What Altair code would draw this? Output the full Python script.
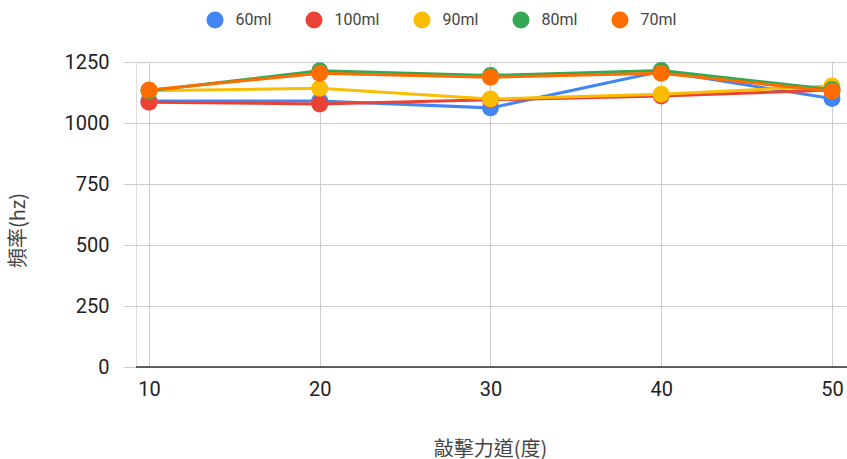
import altair as alt
import pandas as pd

force = [10, 20, 30, 40, 50]
series_names = ["60ml", "100ml", "90ml", "80ml", "70ml"]
colors = ["#4285F4", "#EA4335", "#FBBC04", "#34A853", "#FF6D01"]
v60 = [1090, 1090, 1062, 1212, 1100]
v100 = [1085, 1078, 1095, 1111, 1135]
v90 = [1132, 1142, 1098, 1118, 1152]
v80 = [1132, 1214, 1195, 1215, 1137]
v70 = [1135, 1204, 1188, 1204, 1130]
values = [v60, v100, v90, v80, v70]

rows = []
for si, (name, vals) in enumerate(zip(series_names, values)):
    for x, v in zip(force, vals):
        rows.append({"force": x, "freq": v, "series": name, "ord": si})
df = pd.DataFrame(rows)

font = "Roboto"

x_enc = alt.X(
    "force:Q",
    scale=alt.Scale(domain=[9.24, 50.88], nice=False, zero=False),
    axis=alt.Axis(
        values=force, title="敲擊力道(度)", grid=True, gridColor="#cccccc",
        domain=False, ticks=False, labelFontSize=20, labelColor="#222222",
        labelFont=font, labelPadding=12, titleFont="Noto Sans CJK TC",
        titleFontSize=20, titleFontWeight="normal", titleColor="#444444",
        titleX=354, titleY=82, titleBaseline="middle", titleAnchor="start",
        titleAlign="center",
    ),
)
y_enc = alt.Y(
    "freq:Q",
    scale=alt.Scale(domain=[0, 1250], nice=False),
    axis=alt.Axis(
        values=[0, 250, 500, 750, 1000, 1250], format="d", title="頻率(hz)",
        grid=True, gridColor="#cccccc", domain=False, ticks=True,
        tickColor="#cccccc", tickSize=13, labelFontSize=20,
        labelColor="#222222", labelFont=font, labelPadding=14,
        titleFont="Noto Sans CJK TC", titleFontSize=20,
        titleFontWeight="normal", titleColor="#444444", titleAngle=270,
        titleX=-118, titleY=168, titleBaseline="middle", titleAlign="center",
        titleAnchor="start",
    ),
)
color_enc = alt.Color(
    "series:N",
    scale=alt.Scale(domain=series_names, range=colors),
    legend=alt.Legend(
        title=None, orient="none", direction="horizontal", legendX=70.5,
        legendY=-50.5, symbolType="circle", symbolSize=289,
        symbolStrokeWidth=0, labelFontSize=16, labelColor="#444444",
        labelFont=font, labelOffset=12, columnPadding=34, padding=0,
    ),
)

base = alt.Chart(df)
lines = base.mark_line(strokeWidth=3).encode(
    x=x_enc, y=y_enc, color=color_enc, order="force:Q"
)
points = base.mark_point(filled=True, opacity=1, size=289, shape="circle").encode(
    x="force:Q", y="freq:Q",
    color=alt.Color("series:N", scale=alt.Scale(domain=series_names, range=colors), legend=None),
)
zero = alt.Chart(pd.DataFrame({"z": [0]})).mark_rule(color="#333333", strokeWidth=1.5).encode(
    y="z:Q"
)

chart = alt.layer(lines, zero, points).properties(
    width=711, height=305,
    padding={"left": 136, "top": 62, "right": 0, "bottom": 92},
    autosize=alt.AutoSizeParams(type="none"),
).configure_view(stroke=None).configure(background="white")

chart.save("out.html", embed_options={"renderer": "svg", "actions": False})
